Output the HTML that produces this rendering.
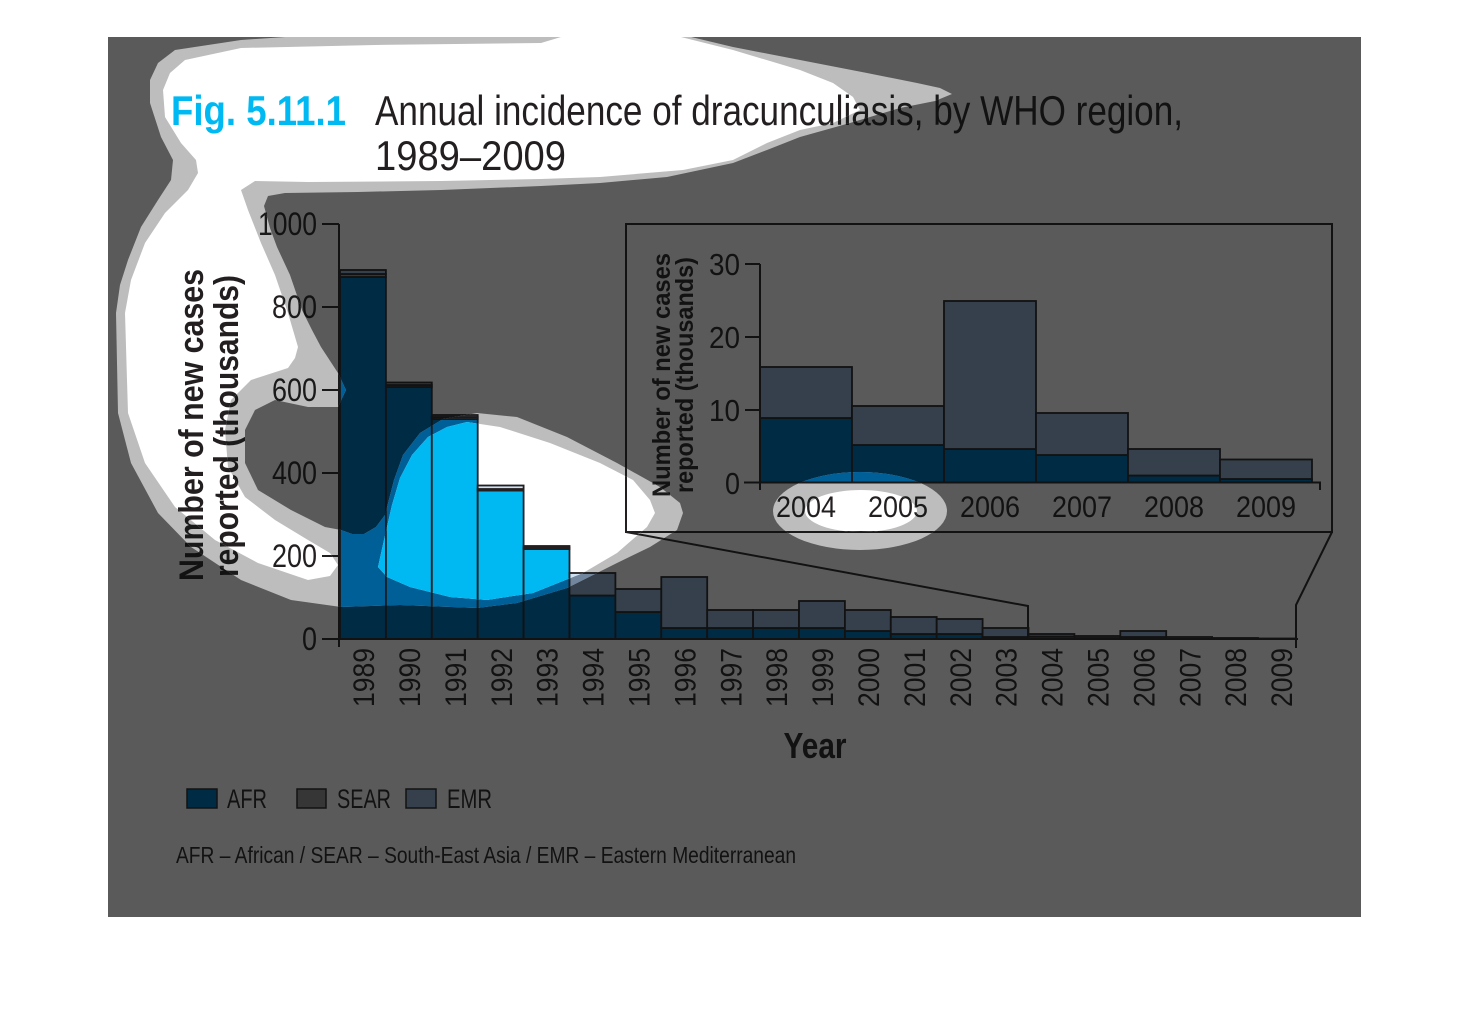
<!DOCTYPE html>
<html><head><meta charset="utf-8"><style>
html,body{margin:0;padding:0;background:#fff;}
svg{display:block;}
text{font-family:"Liberation Sans Narrow","Liberation Sans",sans-serif;}
.dark{--bg:#5a5a5a;--afr:#002b45;--sear:#363636;--emr:#36404c;--ink:#121212;--fig:#004158;}
.mid{--bg:#bdbdbd;--afr:#005f96;--sear:#747474;--emr:#72869e;--ink:#1a1a1a;--fig:#0089b3;}
.light{--bg:#ffffff;--afr:#00b9f2;--sear:#9d9d9d;--emr:#cfe2f3;--ink:#231f20;--fig:#00b9f2;}
</style></head><body>
<svg width="1470" height="1012" viewBox="0 0 1470 1012" xmlns="http://www.w3.org/2000/svg">
<defs>
<clipPath id="ringClip">
<path d="M158,63 L175,50 L241,40 L300,36 L687,36 L733,47 L800,60 L867,73 L917,83 L940,88 L952,94 L935,101 L900,108 L850,123 L800,137 L767,150 L733,163 L667,177 L600,183 L541,186 L441,190 L358,192 L285,193 L268,196 L264,206 L270,228 L277,247 L290,275 L302,310 L312,330 L321,347 L338,373 L346,390 L338,407 L308,407 L275,400 L255,410 L245,430 L245,463 L258,490 L291,510 L325,527 L341,530 L352,534 L364,534 L376,527 L385,515 L394,480 L403,455 L420,433 L443,419 L477,413 L517,417 L567,437 L617,463 L660,487 L680,503 L683,513 L677,530 L650,547 L617,563 L583,580 L567,588 L517,603 L477,608 L400,605 L341,607 L291,600 L241,580 L191,547 L158,513 L131,463 L118,413 L116,313 L120,285 L128,260 L141,227 L158,200 L171,180 L173,160 L161,137 L150,103 L150,80 Z"/>
<ellipse cx="860" cy="511" rx="87" ry="39"/>
</clipPath>
<clipPath id="coreClip">
<path d="M185,60 L241,48 L375,45 L541,43 L561,37 L677,36 L733,50 L800,70 L833,83 L853,97 L860,110 L833,123 L800,130 L767,143 L733,160 L683,170 L600,177 L541,179 L441,181 L308,182 L255,181 L241,190 L248,210 L261,243 L275,275 L288,313 L298,347 L295,358 L288,368 L251,380 L231,400 L225,430 L228,467 L245,497 L275,520 L308,540 L330,553 L338,565 L330,576 L308,580 L258,563 L215,540 L175,507 L145,463 L128,413 L125,313 L131,280 L145,243 L165,213 L188,190 L198,173 L196,160 L181,143 L165,117 L163,90 L170,73 Z"/>
<path d="M378,567 L384,540 L392,505 L400,478 L412,455 L428,437 L447,427 L467,422 L500,427 L550,443 L600,463 L633,480 L650,500 L655,513 L647,527 L617,553 L583,573 L533,593 L487,600 L450,597 L410,587 L387,577 Z"/>
<ellipse cx="861" cy="511" rx="56" ry="21"/>
</clipPath>

<g id="chart">
<rect x="108" y="37" width="1253" height="880" style="fill:var(--bg)"/>
<!-- Title -->
<text x="171" y="125" font-size="42" font-weight="bold" textLength="175" lengthAdjust="spacingAndGlyphs" style="fill:var(--fig)">Fig. 5.11.1</text>
<text x="375" y="125" font-size="42" textLength="808" lengthAdjust="spacingAndGlyphs" style="fill:var(--ink)">Annual incidence of dracunculiasis, by WHO region,</text>
<text x="375" y="170" font-size="42" textLength="191" lengthAdjust="spacingAndGlyphs" style="fill:var(--ink)">1989–2009</text>

<!-- Main bars -->
<g style="stroke:var(--ink)" stroke-width="1.8">
<rect x="340" y="277" width="45.9" height="362" style="fill:var(--afr)"/>
<rect x="340" y="274" width="45.9" height="3" style="fill:var(--sear)"/>
<rect x="340" y="270" width="45.9" height="4" style="fill:var(--emr)"/>
<rect x="385.9" y="387" width="45.9" height="252" style="fill:var(--afr)"/>
<rect x="385.9" y="385" width="45.9" height="2" style="fill:var(--sear)"/>
<rect x="385.9" y="382.5" width="45.9" height="2.5" style="fill:var(--emr)"/>
<rect x="431.8" y="419" width="45.9" height="220" style="fill:var(--afr)"/>
<rect x="431.8" y="417" width="45.9" height="2" style="fill:var(--sear)"/>
<rect x="431.8" y="415" width="45.9" height="2" style="fill:var(--emr)"/>
<rect x="477.7" y="490.5" width="45.9" height="148.5" style="fill:var(--afr)"/>
<rect x="477.7" y="489" width="45.9" height="1.5" style="fill:var(--sear)"/>
<rect x="477.7" y="485.5" width="45.9" height="3.5" style="fill:var(--emr)"/>
<rect x="523.6" y="549" width="45.9" height="90" style="fill:var(--afr)"/>
<rect x="523.6" y="547.5" width="45.9" height="1.5" style="fill:var(--sear)"/>
<rect x="523.6" y="546" width="45.9" height="1.5" style="fill:var(--emr)"/>
<rect x="569.5" y="595.5" width="45.9" height="43.5" style="fill:var(--afr)"/>
<rect x="569.5" y="573" width="45.9" height="22.5" style="fill:var(--emr)"/>
<rect x="615.4" y="612" width="45.9" height="27" style="fill:var(--afr)"/>
<rect x="615.4" y="589" width="45.9" height="23" style="fill:var(--emr)"/>
<rect x="661.3" y="628" width="45.9" height="11" style="fill:var(--afr)"/>
<rect x="661.3" y="577" width="45.9" height="51" style="fill:var(--emr)"/>
<rect x="707.2" y="628" width="45.9" height="11" style="fill:var(--afr)"/>
<rect x="707.2" y="610" width="45.9" height="18" style="fill:var(--emr)"/>
<rect x="753.1" y="628" width="45.9" height="11" style="fill:var(--afr)"/>
<rect x="753.1" y="610" width="45.9" height="18" style="fill:var(--emr)"/>
<rect x="799" y="628" width="45.9" height="11" style="fill:var(--afr)"/>
<rect x="799" y="601" width="45.9" height="27" style="fill:var(--emr)"/>
<rect x="844.9" y="631" width="45.9" height="8" style="fill:var(--afr)"/>
<rect x="844.9" y="610" width="45.9" height="21" style="fill:var(--emr)"/>
<rect x="890.8" y="634" width="45.9" height="5" style="fill:var(--afr)"/>
<rect x="890.8" y="617" width="45.9" height="17" style="fill:var(--emr)"/>
<rect x="936.7" y="634" width="45.9" height="5" style="fill:var(--afr)"/>
<rect x="936.7" y="619" width="45.9" height="15" style="fill:var(--emr)"/>
<rect x="982.6" y="637" width="45.9" height="2" style="fill:var(--afr)"/>
<rect x="982.6" y="628" width="45.9" height="9" style="fill:var(--emr)"/>
<rect x="1028.5" y="636.5" width="45.9" height="2.5" style="fill:var(--afr)"/>
<rect x="1028.5" y="634" width="45.9" height="2.5" style="fill:var(--emr)"/>
<rect x="1074.4" y="638" width="45.9" height="1" style="fill:var(--afr)"/>
<rect x="1074.4" y="636" width="45.9" height="2" style="fill:var(--emr)"/>
<rect x="1120.3" y="637" width="45.9" height="2" style="fill:var(--afr)"/>
<rect x="1120.3" y="631" width="45.9" height="6" style="fill:var(--emr)"/>
<rect x="1166.2" y="637" width="45.9" height="2" style="fill:var(--emr)"/>
<rect x="1212.1" y="638" width="45.9" height="1" style="fill:var(--emr)"/>
<rect x="1258" y="638.5" width="38" height="0.5" style="fill:var(--emr)"/>
</g>

<!-- Main axes -->
<g style="stroke:var(--ink)" stroke-width="2" fill="none">
<line x1="339" y1="224" x2="339" y2="647"/>
<line x1="322" y1="639" x2="1298" y2="639"/>
<line x1="322" y1="224" x2="339" y2="224"/>
<line x1="322" y1="307" x2="339" y2="307"/>
<line x1="322" y1="390" x2="339" y2="390"/>
<line x1="322" y1="473" x2="339" y2="473"/>
<line x1="322" y1="556" x2="339" y2="556"/>
<polyline points="626,532 1028,606 1028,639"/>
<polyline points="1332,532 1296,605 1296,648"/>
<rect x="626" y="224" width="706" height="308"/>
</g>
<g font-size="32" text-anchor="end" style="fill:var(--ink)">
<text x="317" y="235" textLength="59" lengthAdjust="spacingAndGlyphs">1000</text>
<text x="317" y="318" textLength="45" lengthAdjust="spacingAndGlyphs">800</text>
<text x="317" y="401" textLength="45" lengthAdjust="spacingAndGlyphs">600</text>
<text x="317" y="484" textLength="45" lengthAdjust="spacingAndGlyphs">400</text>
<text x="317" y="567" textLength="45" lengthAdjust="spacingAndGlyphs">200</text>
<text x="317" y="650" textLength="15" lengthAdjust="spacingAndGlyphs">0</text>
</g>
<!-- Year labels -->
<g font-size="30" text-anchor="end" style="fill:var(--ink)">
<text transform="translate(374,648) rotate(-90)" textLength="59" lengthAdjust="spacingAndGlyphs">1989</text>
<text transform="translate(420,648) rotate(-90)" textLength="59" lengthAdjust="spacingAndGlyphs">1990</text>
<text transform="translate(465.9,648) rotate(-90)" textLength="59" lengthAdjust="spacingAndGlyphs">1991</text>
<text transform="translate(511.8,648) rotate(-90)" textLength="59" lengthAdjust="spacingAndGlyphs">1992</text>
<text transform="translate(557.7,648) rotate(-90)" textLength="59" lengthAdjust="spacingAndGlyphs">1993</text>
<text transform="translate(603.6,648) rotate(-90)" textLength="59" lengthAdjust="spacingAndGlyphs">1994</text>
<text transform="translate(649.5,648) rotate(-90)" textLength="59" lengthAdjust="spacingAndGlyphs">1995</text>
<text transform="translate(695.4,648) rotate(-90)" textLength="59" lengthAdjust="spacingAndGlyphs">1996</text>
<text transform="translate(741.3,648) rotate(-90)" textLength="59" lengthAdjust="spacingAndGlyphs">1997</text>
<text transform="translate(787.2,648) rotate(-90)" textLength="59" lengthAdjust="spacingAndGlyphs">1998</text>
<text transform="translate(833.1,648) rotate(-90)" textLength="59" lengthAdjust="spacingAndGlyphs">1999</text>
<text transform="translate(879,648) rotate(-90)" textLength="59" lengthAdjust="spacingAndGlyphs">2000</text>
<text transform="translate(924.9,648) rotate(-90)" textLength="59" lengthAdjust="spacingAndGlyphs">2001</text>
<text transform="translate(970.8,648) rotate(-90)" textLength="59" lengthAdjust="spacingAndGlyphs">2002</text>
<text transform="translate(1016.7,648) rotate(-90)" textLength="59" lengthAdjust="spacingAndGlyphs">2003</text>
<text transform="translate(1062.6,648) rotate(-90)" textLength="59" lengthAdjust="spacingAndGlyphs">2004</text>
<text transform="translate(1108.5,648) rotate(-90)" textLength="59" lengthAdjust="spacingAndGlyphs">2005</text>
<text transform="translate(1154.4,648) rotate(-90)" textLength="59" lengthAdjust="spacingAndGlyphs">2006</text>
<text transform="translate(1200.3,648) rotate(-90)" textLength="59" lengthAdjust="spacingAndGlyphs">2007</text>
<text transform="translate(1246.2,648) rotate(-90)" textLength="59" lengthAdjust="spacingAndGlyphs">2008</text>
<text transform="translate(1292,648) rotate(-90)" textLength="59" lengthAdjust="spacingAndGlyphs">2009</text>
</g>
<!-- Main y label -->
<g font-size="34" font-weight="bold" text-anchor="middle" style="fill:var(--ink)">
<text transform="translate(203,425) rotate(-90)" textLength="312" lengthAdjust="spacingAndGlyphs">Number of new cases</text>
<text transform="translate(238,426) rotate(-90)" textLength="302" lengthAdjust="spacingAndGlyphs">reported (thousands)</text>
</g>
<text x="815" y="758" font-size="36" font-weight="bold" text-anchor="middle" textLength="63" lengthAdjust="spacingAndGlyphs" style="fill:var(--ink)">Year</text>

<!-- Inset -->
<g style="stroke:var(--ink)" stroke-width="1.8">
<rect x="760" y="418" width="92" height="64.5" style="fill:var(--afr)"/>
<rect x="760" y="367" width="92" height="51" style="fill:var(--emr)"/>
<rect x="852" y="445" width="92" height="37.5" style="fill:var(--afr)"/>
<rect x="852" y="406" width="92" height="39" style="fill:var(--emr)"/>
<rect x="944" y="449" width="92" height="33.5" style="fill:var(--afr)"/>
<rect x="944" y="301" width="92" height="148" style="fill:var(--emr)"/>
<rect x="1036" y="455" width="92" height="27.5" style="fill:var(--afr)"/>
<rect x="1036" y="413" width="92" height="42" style="fill:var(--emr)"/>
<rect x="1128" y="475.5" width="92" height="7" style="fill:var(--afr)"/>
<rect x="1128" y="449" width="92" height="26.5" style="fill:var(--emr)"/>
<rect x="1220" y="479" width="92" height="3.5" style="fill:var(--afr)"/>
<rect x="1220" y="459.5" width="92" height="19.5" style="fill:var(--emr)"/>
</g>
<g style="stroke:var(--ink)" stroke-width="2" fill="none">
<line x1="760" y1="264" x2="760" y2="490"/>
<line x1="744" y1="482.5" x2="1321" y2="482.5"/>
<line x1="1320" y1="482.5" x2="1320" y2="490"/>
<line x1="745" y1="264" x2="760" y2="264"/>
<line x1="745" y1="337" x2="760" y2="337"/>
<line x1="745" y1="410" x2="760" y2="410"/>
</g>
<g font-size="31" text-anchor="end" style="fill:var(--ink)">
<text x="740" y="275" textLength="31" lengthAdjust="spacingAndGlyphs">30</text>
<text x="740" y="348" textLength="31" lengthAdjust="spacingAndGlyphs">20</text>
<text x="740" y="421" textLength="31" lengthAdjust="spacingAndGlyphs">10</text>
<text x="740" y="494" textLength="15" lengthAdjust="spacingAndGlyphs">0</text>
</g>
<g font-size="30" text-anchor="middle" style="fill:var(--ink)">
<text x="806" y="517" textLength="60" lengthAdjust="spacingAndGlyphs">2004</text>
<text x="898" y="517" textLength="60" lengthAdjust="spacingAndGlyphs">2005</text>
<text x="990" y="517" textLength="60" lengthAdjust="spacingAndGlyphs">2006</text>
<text x="1082" y="517" textLength="60" lengthAdjust="spacingAndGlyphs">2007</text>
<text x="1174" y="517" textLength="60" lengthAdjust="spacingAndGlyphs">2008</text>
<text x="1266" y="517" textLength="60" lengthAdjust="spacingAndGlyphs">2009</text>
</g>
<g font-size="25" font-weight="bold" text-anchor="middle" style="fill:var(--ink)">
<text transform="translate(670,375) rotate(-90)" textLength="244" lengthAdjust="spacingAndGlyphs">Number of new cases</text>
<text transform="translate(693,375) rotate(-90)" textLength="236" lengthAdjust="spacingAndGlyphs">reported (thousands)</text>
</g>

<!-- Legend -->
<g style="stroke:var(--ink)" stroke-width="1.5">
<rect x="187" y="789" width="30" height="19" style="fill:var(--afr)"/>
<rect x="297" y="789" width="29" height="19" style="fill:var(--sear)"/>
<rect x="406" y="789" width="30" height="19" style="fill:var(--emr)"/>
</g>
<g font-size="27" style="fill:var(--ink)">
<text x="227" y="808" textLength="40" lengthAdjust="spacingAndGlyphs">AFR</text>
<text x="337" y="808" textLength="54" lengthAdjust="spacingAndGlyphs">SEAR</text>
<text x="447" y="808" textLength="45" lengthAdjust="spacingAndGlyphs">EMR</text>
</g>
<text x="176" y="863" font-size="23" textLength="620" lengthAdjust="spacingAndGlyphs" style="fill:var(--ink)">AFR – African / SEAR – South-East Asia / EMR – Eastern Mediterranean</text>
</g>
</defs>

<use href="#chart" class="dark"/>
<g clip-path="url(#ringClip)"><use href="#chart" class="mid"/></g>
<g clip-path="url(#coreClip)"><use href="#chart" class="light"/></g>
</svg>
</body></html>
